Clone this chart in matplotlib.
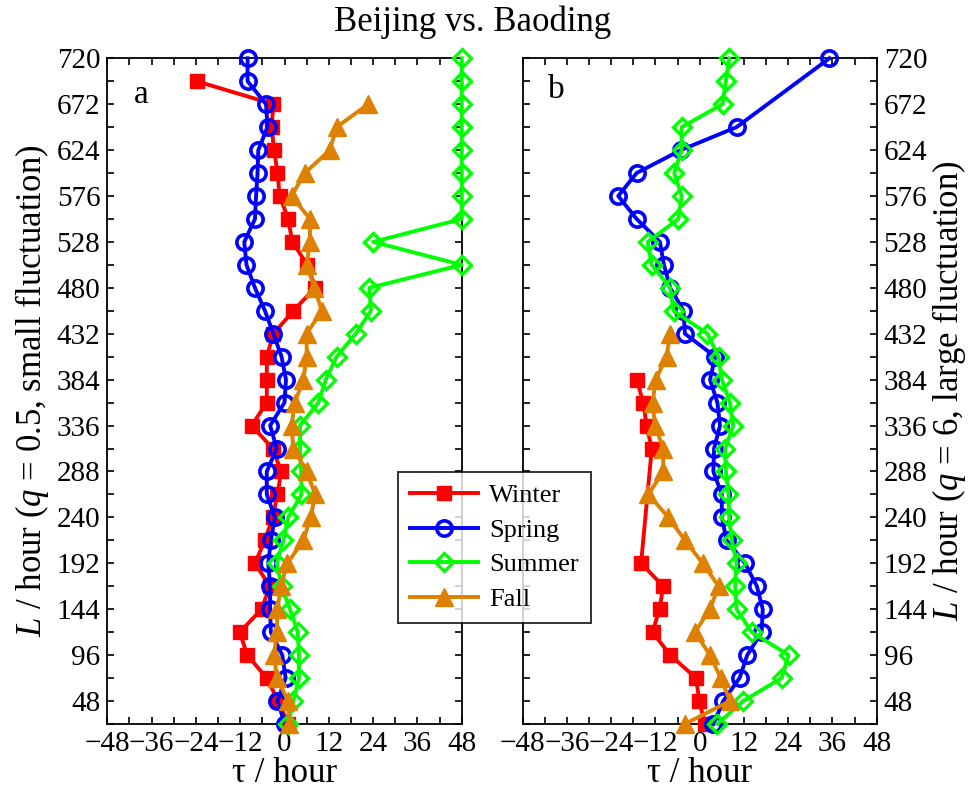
import matplotlib
matplotlib.use("Agg")
import matplotlib.pyplot as plt
from matplotlib.ticker import MultipleLocator, FixedLocator

plt.rcParams['font.family'] = ['Liberation Serif', 'DejaVu Serif']
plt.rcParams['mathtext.fontset'] = 'custom'
plt.rcParams['mathtext.rm'] = 'Liberation Serif'
plt.rcParams['mathtext.it'] = 'Liberation Serif:italic'

# ---------------- data ----------------
seasons = ["Winter", "Spring", "Summer", "Fall"]

# Panel a (q = 0.5)
a_winter_L = list(range(24, 697, 24))
a_winter_tau = [1.0, -1.7, -4.8, -10.1, -12.1, -6.2, -4.0, -8.0, -5.3, -3.2, -1.9, -0.9, -3.2, -8.9,
                -4.8, -4.8, -4.8, -3.0, 2.4, 8.3, 6.2, 2.1, 1.0, -1.3, -1.9, -2.8, -3.5, -3.0, -23.8]
a_spring_L = list(range(24, 721, 24))
a_spring_tau = [0.1, -1.9, 0.3, -0.6, -3.7, -3.9, -3.9, -4.4, -3.7, -2.6, -4.8, -4.8, -2.1, -3.9,
                0.0, 0.4, -0.8, -3.0, -5.3, -8.0, -10.3, -10.9, -8.0, -7.7, -7.3, -7.1, -4.6, -5.0,
                -10.0, -10.0]
a_summer_L = list(range(24, 721, 24))
a_summer_tau = [1.0, 2.4, 3.9, 3.9, 3.6, 1.5, -0.8, -2.1, -0.3, 1.0, 4.6, 4.5, 4.2, 4.2, 9.2, 11.2,
                14.1, 19.3, 23.4, 23.0, 48, 24, 48, 48, 48, 48, 48, 48, 48, 48]
a_fall_L = list(range(24, 673, 24))
a_fall_tau = [1.2, 1.0, -2.1, -2.8, -2.1, -1.9, -1.0, 0.8, 5.1, 7.1, 8.3, 6.0, 2.4, 1.9, 2.8, 5.1,
              6.0, 6.0, 10.1, 8.1, 6.0, 6.9, 6.9, 1.9, 5.5, 12.3, 14.1, 22.7]

# Panel b (q = 6)
b_winter_L = [24, 48, 72, 96, 120, 144, 168, 192, 312, 336, 360, 384]
b_winter_tau = [1.4, -0.1, -1.0, -8.0, -12.8, -10.9, -9.9, -15.9, -13.0, -14.4, -15.3, -17.1]
b_spring_L = list(range(24, 649, 24)) + [720]
b_spring_tau = [3.7, 6.4, 10.8, 12.9, 16.8, 17.1, 15.5, 12.3, 7.3, 6.0, 6.0, 3.7, 3.9, 5.5, 4.8,
                2.8, 4.2, -4.0, -4.4, -8.0, -9.7, -10.8, -17.1, -22.1, -17.1, -5.1, 10.0, 35.2]
b_summer_L = list(range(24, 721, 24))
b_summer_tau = [4.8, 11.8, 22.2, 24.1, 14.1, 10.0, 9.6, 10.0, 8.7, 8.0, 7.8, 7.1, 6.9, 9.1, 8.2,
                6.0, 5.1, 2.1, -7.1, -8.0, -13.0, -14.1, -5.8, -4.9, -6.9, -4.9, -4.9, 6.2, 7.1, 8.0]
b_fall_L = list(range(24, 433, 24))
b_fall_tau = [-4.0, 8.2, 5.7, 2.8, -1.3, 2.8, 5.1, 0.8, -4.0, -8.5, -13.9, -9.9, -9.9, -12.1,
              -12.8, -11.9, -9.0, -8.0]

x_ticks = [-48, -36, -24, -12, 0, 12, 24, 36, 48]
y_ticks = [48, 96, 144, 192, 240, 288, 336, 384, 432, 480, 528, 576, 624, 672, 720]

# ---------------- style ----------------
colors = {"Winter": (1, 0, 0), "Spring": (0, 0, 1), "Summer": (0, 1, 0), "Fall": (0.87, 0.5, 0.0)}
markers = {"Winter": dict(marker='s', markersize=10, markerfacecolor=(1, 0, 0)),
           "Spring": dict(marker='o', markersize=11, markerfacecolor='none', markeredgewidth=2.6),
           "Summer": dict(marker='D', markersize=9.5, markerfacecolor='none', markeredgewidth=2.4),
           "Fall": dict(marker='^', markersize=13, markerfacecolor=(0.87, 0.5, 0.0))}

fig = plt.figure(figsize=(9.7, 7.96), dpi=100)
axa = fig.add_axes([0.1106, 0.0905, 0.3654, 0.8363])
axb = fig.add_axes([0.5389, 0.0905, 0.3649, 0.8363])

panels = {
    axa: [(a_winter_tau, a_winter_L), (a_spring_tau, a_spring_L), (a_summer_tau, a_summer_L), (a_fall_tau, a_fall_L)],
    axb: [(b_winter_tau, b_winter_L), (b_spring_tau, b_spring_L), (b_summer_tau, b_summer_L), (b_fall_tau, b_fall_L)],
}

handles = []
for ax, series in panels.items():
    for name, (tau, L) in zip(seasons, series):
        h, = ax.plot(tau, L, color=colors[name], linewidth=2.8, clip_on=False, zorder=3,
                     markeredgecolor=colors[name], **markers[name])
        if ax is axa:
            handles.append(h)
    ax.set_xlim(-48, 48)
    ax.set_ylim(24, 720)
    ax.xaxis.set_major_locator(FixedLocator(x_ticks))
    ax.xaxis.set_minor_locator(MultipleLocator(6))
    ax.yaxis.set_major_locator(FixedLocator(y_ticks))
    ax.yaxis.set_minor_locator(MultipleLocator(24))
    ax.tick_params(which='both', direction='in', top=True, right=True, left=True, bottom=True,
                   length=5, width=1.2, labelsize=21, pad=5)
    for s in ax.spines.values():
        s.set_linewidth(1.3)
    ax.set_xlabel('τ / hour', fontsize=25, labelpad=0)

axb.yaxis.set_label_position('right')
axb.tick_params(which='both', labelleft=False, labelright=True)

axa.set_ylabel(r'$L$ / hour ($q$ = 0.5, small fluctuation)', fontsize=25, labelpad=4)
axb.set_ylabel(r'$L$ / hour ($q$ = 6, large fluctuation)', fontsize=25, labelpad=2)

axa.text(0.075, 0.945, 'a', transform=axa.transAxes, fontsize=24, va='center', ha='left')
axb.text(0.07, 0.952, 'b', transform=axb.transAxes, fontsize=24, va='center', ha='left')

fig.text(0.487, 0.972, 'Beijing vs. Baoding', fontsize=25, ha='center', va='center')

leg = fig.legend(handles, seasons, loc='upper left', bbox_to_anchor=(0.4103, 0.407),
                 bbox_transform=fig.transFigure, fontsize=19, frameon=True, fancybox=False,
                 handlelength=2.6, handletextpad=0.4, labelspacing=0.42, borderpad=0.45,
                 borderaxespad=0.0)
leg.get_frame().set_edgecolor('black')
leg.get_frame().set_linewidth(1.4)
leg.set_zorder(10)

fig.savefig('out.png', dpi=100)
